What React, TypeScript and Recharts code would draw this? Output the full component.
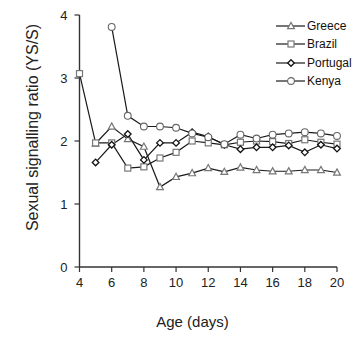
import React from 'react'
import { LineChart, Line, XAxis, YAxis, Legend, Label } from 'recharts'

const ages = [4, 5, 6, 7, 8, 9, 10, 11, 12, 13, 14, 15, 16, 17, 18, 19, 20]
const greece = [null, 1.96, 2.23, 2.03, 1.91, 1.27, 1.43, 1.49, 1.57, 1.51, 1.58, 1.54, 1.52, 1.52, 1.54, 1.54, 1.5]
const brazil = [3.07, 1.97, 1.97, 1.57, 1.59, 1.73, 1.82, 2.0, 1.97, 1.94, 1.98, 2.0, 1.99, 1.96, 2.02, 1.98, 1.95]
const portugal = [null, 1.66, 1.94, 2.11, 1.7, 1.97, 1.97, 2.14, 2.07, 1.94, 1.87, 1.9, 1.9, 1.93, 1.82, 1.94, 1.88]
const kenya = [null, null, 3.81, 2.4, 2.23, 2.23, 2.21, 2.12, 2.06, 1.95, 2.1, 2.04, 2.1, 2.12, 2.14, 2.12, 2.08]

const xTicks = [4, 6, 8, 10, 12, 14, 16, 18, 20]
const yTicks = [0, 1, 2, 3, 4]

const FONT = '"Liberation Sans", Arial, sans-serif'
const LINE = '#1a1a1a'

type Shape = 'triangle' | 'square' | 'diamond' | 'circle'

const series: { key: string; name: string; shape: Shape; values: (number | null)[] }[] = [
  { key: 'greece', name: 'Greece', shape: 'triangle', values: greece },
  { key: 'brazil', name: 'Brazil', shape: 'square', values: brazil },
  { key: 'portugal', name: 'Portugal', shape: 'diamond', values: portugal },
  { key: 'kenya', name: 'Kenya', shape: 'circle', values: kenya },
]

const data = ages.map((age, i) => {
  const row: Record<string, number | null> = { age }
  series.forEach((s) => {
    row[s.key] = s.values[i]
  })
  return row
})

function Marker({ shape, cx, cy }: { shape: Shape; cx: number; cy: number }) {
  if (shape === 'triangle') {
    return (
      <path
        d={`M${cx},${cy - 3.6} L${cx + 3.4},${cy + 2.6} L${cx - 3.4},${cy + 2.6} Z`}
        fill="#fff"
        stroke="#777"
        strokeWidth={1.2}
      />
    )
  }
  if (shape === 'square') {
    return <rect x={cx - 3} y={cy - 3} width={6} height={6} fill="#fff" stroke="#777" strokeWidth={1.2} />
  }
  if (shape === 'diamond') {
    return (
      <path
        d={`M${cx},${cy - 3.3} L${cx + 3.3},${cy} L${cx},${cy + 3.3} L${cx - 3.3},${cy} Z`}
        fill="#fff"
        stroke="#111"
        strokeWidth={1.3}
      />
    )
  }
  return <circle cx={cx} cy={cy} r={3.4} fill="#fff" stroke="#666" strokeWidth={1.1} />
}

const renderDot = (shape: Shape) => (props: any) => {
  const { cx, cy, index, value } = props
  if (cx == null || cy == null || value == null) return <g key={`d-${shape}-${index}`} />
  return (
    <g key={`d-${shape}-${index}`}>
      <Marker shape={shape} cx={cx} cy={cy} />
    </g>
  )
}

function LegendBox() {
  return (
    <div style={{ fontFamily: FONT, fontSize: 12, color: '#111' }}>
      {series.map((s) => (
        <div key={s.key} style={{ display: 'flex', alignItems: 'center', height: 18.3 }}>
          <svg width={30} height={12} style={{ display: 'block' }}>
            <line x1={0} y1={6} x2={29} y2={6} stroke={LINE} strokeWidth={1.2} />
            <Marker shape={s.shape} cx={15} cy={6} />
          </svg>
          <span style={{ marginLeft: 1 }}>{s.name}</span>
        </div>
      ))}
    </div>
  )
}

export default function App() {
  return (
    <div style={{ position: 'absolute', left: 0, top: 0 }}>
      <LineChart width={354} height={339} data={data} margin={{ top: 15, right: 17, bottom: 0, left: 0 }}>
        <XAxis
          dataKey="age"
          type="number"
          domain={[4, 20]}
          ticks={xTicks}
          height={72}
          tickSize={5}
          tickMargin={6}
          axisLine={{ stroke: '#333', strokeWidth: 1.4 }}
          tickLine={{ stroke: '#333', strokeWidth: 1.2 }}
          tick={{ fill: '#222', fontSize: 13, fontFamily: FONT }}
        >
          <Label
            content={() => (
              <text x={192.5} y={327} textAnchor="middle" fill="#222" fontSize={15} fontFamily={FONT}>
                Age (days)
              </text>
            )}
          />
        </XAxis>
        <YAxis
          type="number"
          domain={[0, 4]}
          ticks={yTicks}
          width={79.5}
          tickSize={5}
          tickMargin={7}
          axisLine={{ stroke: '#333', strokeWidth: 1.4 }}
          tickLine={{ stroke: '#333', strokeWidth: 1.2 }}
          tick={{ fill: '#222', fontSize: 13, fontFamily: FONT }}
        >
          <Label
            content={() => (
              <text
                x={32}
                y={127.5}
                transform="rotate(-90 32 127.5)"
                textAnchor="middle"
                dominantBaseline="central"
                fill="#222"
                fontSize={16}
                fontFamily={FONT}
              >
                Sexual signalling ratio (YS/S)
              </text>
            )}
          />
        </YAxis>
        <Legend
          layout="horizontal"
          verticalAlign="middle"
          align="center"
          wrapperStyle={{ top: 17, left: 276, width: 78 }}
          content={() => <LegendBox />}
        />
        {series.map((s) => (
          <Line
            key={s.key}
            dataKey={s.key}
            name={s.name}
            type="linear"
            stroke={LINE}
            strokeWidth={1.2}
            connectNulls
            dot={renderDot(s.shape)}
            activeDot={false}
            isAnimationActive={false}
          />
        ))}
      </LineChart>
    </div>
  )
}
